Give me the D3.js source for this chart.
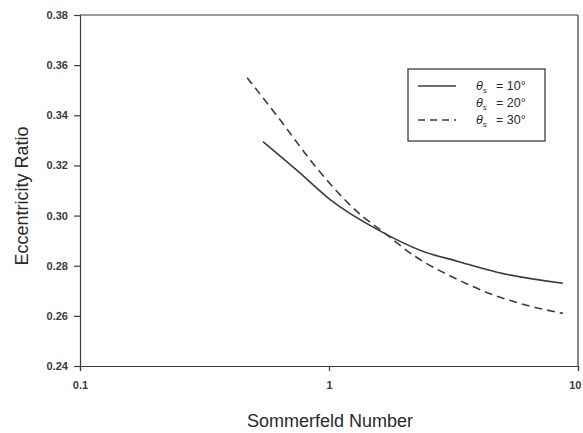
<!DOCTYPE html>
<html>
<head>
<meta charset="utf-8">
<script src="https://cdn.jsdelivr.net/npm/d3@7"></script>
<style>
  html, body { margin: 0; padding: 0; background: #fff; }
  svg { display: block; font-family: "Liberation Sans", Arial, sans-serif; }
</style>
</head>
<body>
<svg id="chart" width="583" height="433"></svg>
<script>
// ---- data ----
const xTicks = [0.1, 1, 10];
const xTickLabels = ["0.1", "1", "10"];
const yTicks = [0.24, 0.26, 0.28, 0.30, 0.32, 0.34, 0.36, 0.38];
const yTickLabels = ["0.24", "0.26", "0.28", "0.30", "0.32", "0.34", "0.36", "0.38"];

const solidS = [0.543, 0.744, 1.01, 1.56, 2.39, 3.27, 4.73, 8.7];
const solidE = [0.3295, 0.318, 0.3064, 0.2945, 0.2857, 0.2818, 0.2774, 0.273];

const dashedS = [0.469, 0.636, 0.895, 1.37, 1.6, 2.18, 3.27, 4.73, 6.41, 8.7];
const dashedE = [0.355, 0.3382, 0.3188, 0.2995, 0.2945, 0.2842, 0.2746, 0.2678, 0.2639, 0.261];

const legendLabels = [
  { sub: "s", val: "10°" },
  { sub: "s", val: "20°" },
  { sub: "s", val: "30°" }
];

// ---- drawing ----
const svg = d3.select("#chart");
const ink = "#3b3b48";
const x = d3.scaleLog().domain([0.1, 10]).range([80, 578]);
const y = d3.scaleLinear().domain([0.24, 0.38]).range([366, 15]);

// frame (top and right)
svg.append("line").attr("x1", x(0.1)).attr("x2", x(10)).attr("y1", y(0.38)).attr("y2", y(0.38))
  .attr("stroke", ink).attr("stroke-width", 1.2);
svg.append("line").attr("x1", x(10)).attr("x2", x(10)).attr("y1", y(0.38)).attr("y2", y(0.24))
  .attr("stroke", ink).attr("stroke-width", 1.2);

const yAxis = d3.axisLeft(y).tickValues(yTicks).tickSize(6).tickPadding(6)
  .tickFormat((d, i) => yTickLabels[i]);
const gy = svg.append("g").attr("transform", `translate(${x(0.1)},0)`).call(yAxis);
gy.select(".domain").attr("stroke", ink).attr("stroke-width", 1.2);
gy.selectAll(".tick line").attr("stroke", ink).attr("stroke-width", 1.2);
gy.selectAll(".tick text").attr("fill", "#3a3a3a").attr("font-size", 11).attr("font-weight", "bold")
  .attr("font-family", "Liberation Sans, Arial, sans-serif");

const xAxis = d3.axisBottom(x).tickValues(xTicks).tickSize(5).tickPadding(10)
  .tickFormat((d, i) => xTickLabels[i]);
const gx = svg.append("g").attr("transform", `translate(0,${y(0.24)})`).call(xAxis);
gx.select(".domain").attr("stroke", ink).attr("stroke-width", 1.2);
gx.selectAll(".tick line").attr("stroke", ink).attr("stroke-width", 1.2);
gx.selectAll(".tick text").attr("fill", "#3a3a3a").attr("font-size", 11).attr("font-weight", "bold")
  .attr("font-family", "Liberation Sans, Arial, sans-serif");
// keep the last label inside the page
gx.selectAll(".tick text").filter((d) => d === 10).attr("text-anchor", "end").attr("dx", 3);

// axis titles
svg.append("text").attr("x", 330).attr("y", 427).attr("text-anchor", "middle")
  .attr("font-size", 18).attr("fill", "#2a2a2a").text("Sommerfeld Number");
svg.append("text").attr("transform", "translate(28,196) rotate(-90)").attr("text-anchor", "middle")
  .attr("font-size", 18).attr("fill", "#2a2a2a").text("Eccentricity Ratio");

// curves
const line = d3.line().x(d => x(d[0])).y(d => y(d[1])).curve(d3.curveMonotoneX);
svg.append("path").datum(d3.zip(solidS, solidE)).attr("d", line)
  .attr("fill", "none").attr("stroke", ink).attr("stroke-width", 1.6);
svg.append("path").datum(d3.zip(dashedS, dashedE)).attr("d", line)
  .attr("fill", "none").attr("stroke", ink).attr("stroke-width", 1.6)
  .attr("stroke-dasharray", "8,5");

// legend
const lg = svg.append("g");
lg.append("rect").attr("x", 408).attr("y", 69).attr("width", 137).attr("height", 72)
  .attr("fill", "#fff").attr("stroke", ink).attr("stroke-width", 1.3);
const rowsY = [86, 103, 120];
lg.append("line").attr("x1", 418).attr("x2", 456).attr("y1", rowsY[0]).attr("y2", rowsY[0])
  .attr("stroke", ink).attr("stroke-width", 1.4);
lg.append("line").attr("x1", 418).attr("x2", 456).attr("y1", rowsY[2]).attr("y2", rowsY[2])
  .attr("stroke", ink).attr("stroke-width", 1.4).attr("stroke-dasharray", "7,5");
legendLabels.forEach((l, i) => {
  const t = lg.append("text").attr("x", 476).attr("y", rowsY[i] + 4)
    .attr("font-size", 12.5).attr("fill", "#2a2a2a");
  t.append("tspan").attr("font-style", "italic").text("θ");
  t.append("tspan").attr("font-style", "italic").attr("font-size", 8).attr("dy", 3).text(l.sub);
  t.append("tspan").attr("dy", -3).attr("x", 496).text("= " + l.val);
});
</script>
</body>
</html>
